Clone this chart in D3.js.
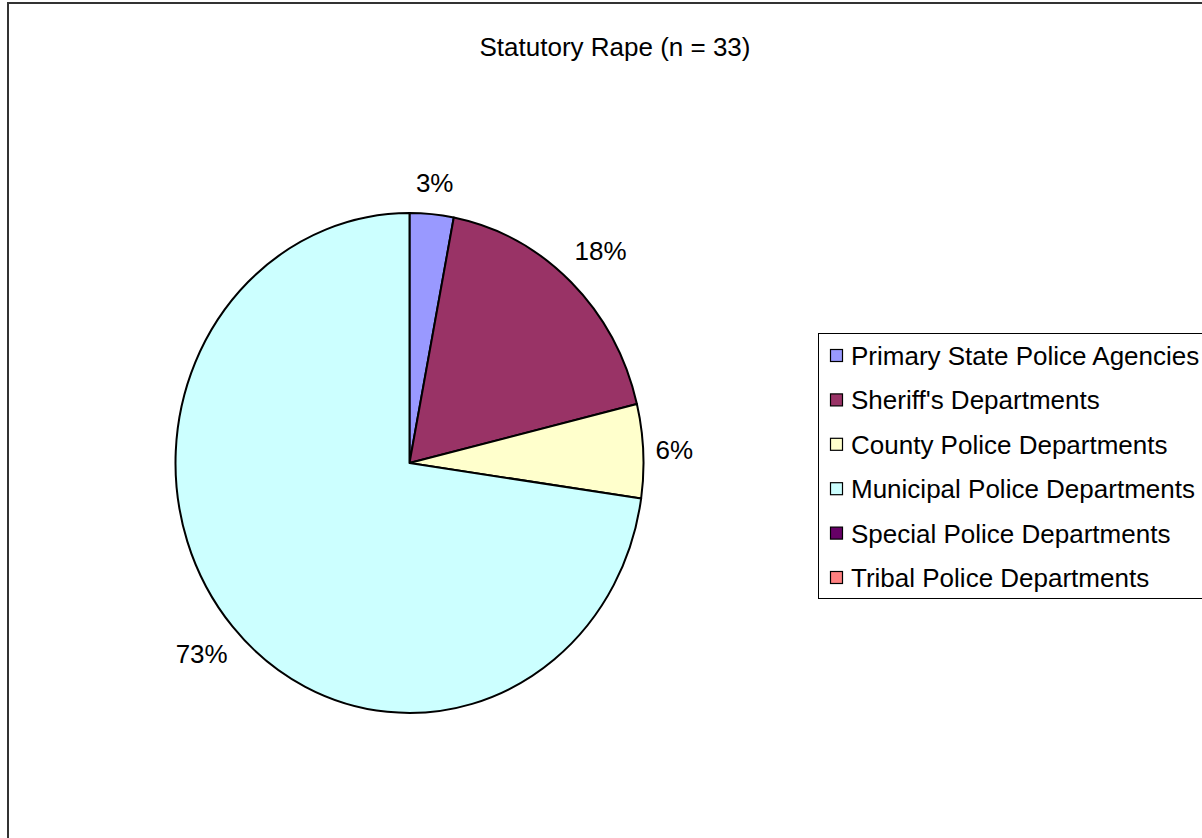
<!DOCTYPE html>
<html>
<head>
<meta charset="utf-8">
<script src="https://cdn.jsdelivr.net/npm/d3@7"></script>
<style>
  html, body { margin: 0; padding: 0; background: #fff; overflow: hidden; }
  svg { display: block; font-family: "Liberation Sans", Arial, sans-serif; }
</style>
</head>
<body>
<script>
// Agency types and number of statutory rape cases reported by each
const categories = [
  "Primary State Police Agencies",
  "Sheriff's Departments",
  "County Police Departments",
  "Municipal Police Departments",
  "Special Police Departments",
  "Tribal Police Departments"
];
const counts = [1, 6, 2, 24, 0, 0];
const colors = ["#9999FF", "#993366", "#FFFFCC", "#CCFFFF", "#660066", "#FF8080"];
const titleText = "Statutory Rape (n = 33)";

const W = 1202, H = 838;
const svg = d3.select("body").append("svg").attr("width", W).attr("height", H);

// Chart area frame (runs past the right and bottom edges)
svg.append("rect")
  .attr("x", 8).attr("y", 3).attr("width", 1230).attr("height", 900)
  .attr("fill", "#fff").attr("stroke", "#333").attr("stroke-width", 2);

svg.append("text")
  .attr("x", 615).attr("y", 56)
  .attr("text-anchor", "middle")
  .attr("font-size", 26)
  .text(titleText);

// Pie, drawn slightly narrower than tall
const cx = 409.5, cy = 463, ry = 250, rx = 234, sx = rx / ry;
const total = d3.sum(counts);
const pie = d3.pie().sort(null).value(d => d)(counts);
const arc = d3.arc().innerRadius(0).outerRadius(ry);

const g = svg.append("g").attr("transform", `translate(${cx},${cy}) scale(${sx},1)`);
g.selectAll("path")
  .data(pie.filter(d => d.value > 0))
  .join("path")
  .attr("d", arc)
  .attr("fill", d => colors[d.index])
  .attr("stroke", "#000")
  .attr("stroke-width", 2)
  .attr("vector-effect", "non-scaling-stroke")
  .attr("stroke-linejoin", "round");

// Percentage labels placed just outside each slice's rim
const fmt = d3.format(".0%");
const gap = 31;
pie.filter(d => d.value > 0).forEach(d => {
  const a = (d.startAngle + d.endAngle) / 2;
  const s = Math.sin(a), c = Math.cos(a);
  const m = Math.max(Math.abs(s), Math.abs(c));
  const px = cx + rx * s + gap * s / m;
  const py = cy - ry * c - gap * c / m;
  svg.append("text")
    .attr("x", px).attr("y", py + 9)
    .attr("font-size", 26)
    .attr("text-anchor", "middle")
    .text(fmt(d.value / total));
});

// Legend box
const lg = svg.append("g");
lg.append("rect")
  .attr("x", 818.5).attr("y", 333.5).attr("width", 420).attr("height", 265)
  .attr("fill", "#fff").attr("stroke", "#000").attr("stroke-width", 1);

const rowY = d3.scalePoint().domain(d3.range(categories.length)).range([356, 578]);
categories.forEach((name, i) => {
  const y = rowY(i);
  lg.append("rect")
    .attr("x", 830.5).attr("y", y - 6.5).attr("width", 12).attr("height", 12)
    .attr("fill", colors[i]).attr("stroke", "#000").attr("stroke-width", 1.2);
  lg.append("text")
    .attr("x", 851).attr("y", y + 9)
    .attr("font-size", 26)
    .text(name);
});
</script>
</body>
</html>
